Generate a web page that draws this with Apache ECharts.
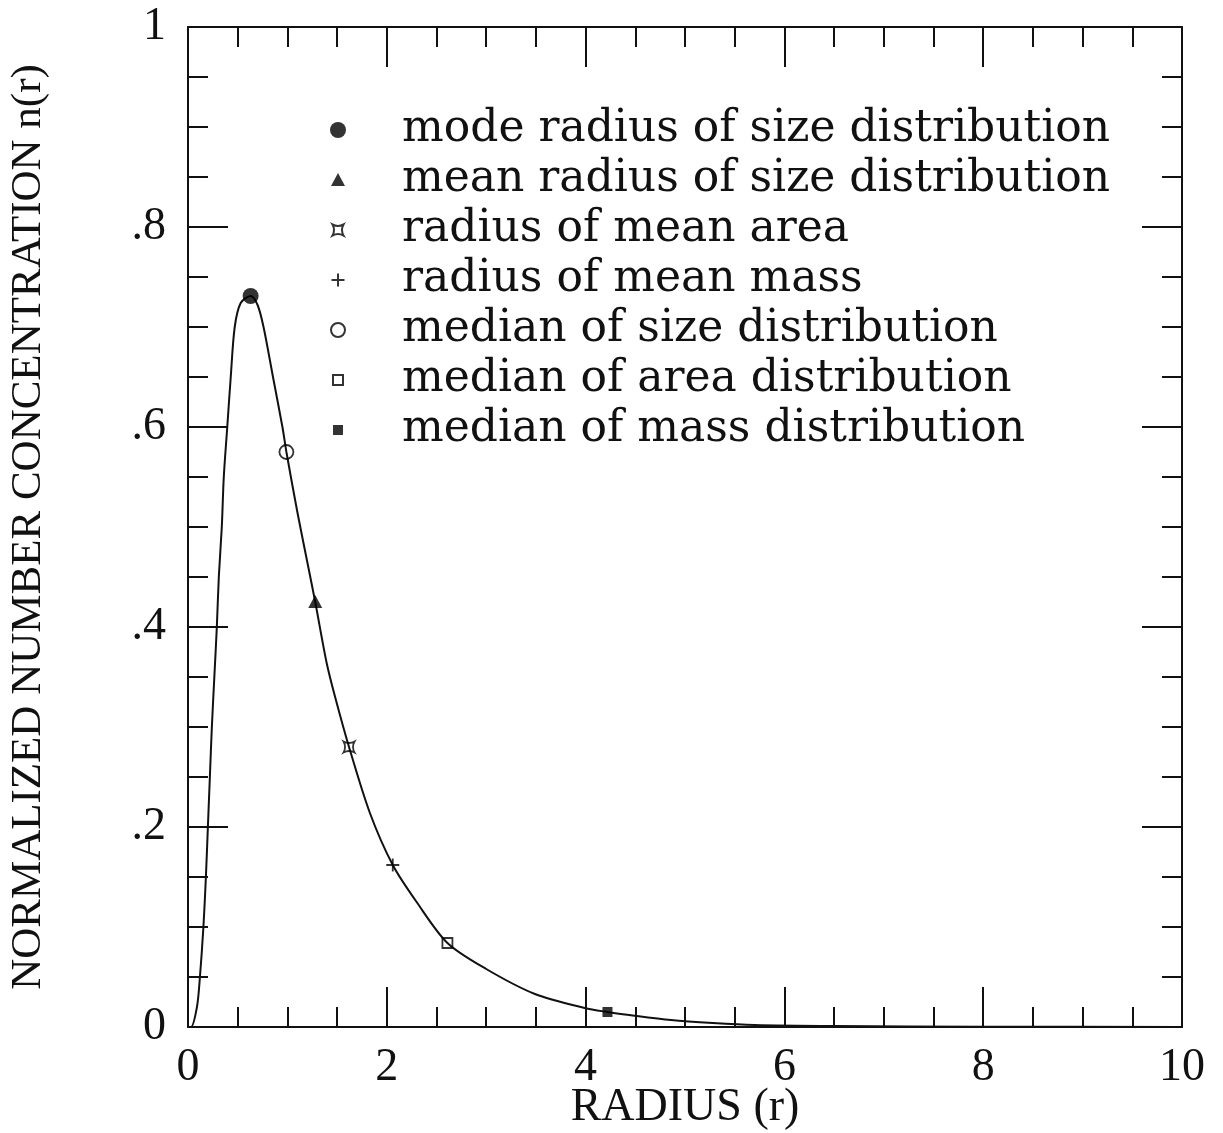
<!DOCTYPE html>
<html>
<head>
<meta charset="utf-8">
<script src="https://cdn.jsdelivr.net/npm/echarts@6/dist/echarts.min.js"></script>
<style>
  html, body { margin: 0; padding: 0; background: #fff; }
  #chart { width: 1223px; height: 1133px; }
</style>
</head>
<body>
<div id="chart"></div>
<script>
// size distribution curve
const curveR = [0, 0.03, 0.09, 0.12, 0.155, 0.18, 0.20, 0.22, 0.24, 0.265, 0.29, 0.31, 0.34, 0.36, 0.395, 0.43, 0.47, 0.53, 0.63, 0.70, 0.76, 0.855, 0.95, 0.99, 1.10, 1.20, 1.28, 1.395, 1.48, 1.62, 1.83, 2.06, 2.30, 2.61, 3.0, 3.49, 3.99, 4.22, 4.44, 4.86, 5.28, 5.7, 6.5, 8.0, 10.0];
const curveN = [0, 0, 0.02, 0.05, 0.10, 0.15, 0.20, 0.25, 0.30, 0.35, 0.40, 0.45, 0.50, 0.55, 0.60, 0.65, 0.70, 0.724, 0.731, 0.722, 0.70, 0.65, 0.60, 0.575, 0.515, 0.465, 0.425, 0.364, 0.33, 0.28, 0.214, 0.162, 0.125, 0.084, 0.058, 0.033, 0.019, 0.015, 0.012, 0.007, 0.004, 0.002, 0.001, 0.0003, 0.0001];

// characteristic radii marked on the curve
const markerNames = [
  'mode radius of size distribution',
  'mean radius of size distribution',
  'radius of mean area',
  'radius of mean mass',
  'median of size distribution',
  'median of area distribution',
  'median of mass distribution'
];
const markerR = [0.63, 1.28, 1.62, 2.06, 0.99, 2.61, 4.22];
const markerN = [0.731, 0.425, 0.28, 0.162, 0.575, 0.084, 0.015];

const xTicks = [0, 2, 4, 6, 8, 10];
const yTicks = [0, 0.2, 0.4, 0.6, 0.8, 1];

// symbols (20x20 box, the leading moves fix the box so sizes differ)
const box = 'path://M0 0M20 20';
const symbols = [
  box + 'M2 10A8 8 0 1 1 18 10A8 8 0 1 1 2 10Z',
  box + 'M10 3L17 16L3 16Z',
  box + 'M4.5 4.5Q10 7.5 15.5 4.5Q12.5 10 15.5 15.5Q10 12.5 4.5 15.5Q7.5 10 4.5 4.5Z',
  box + 'M10 3.5L10 16.5M3.5 10L16.5 10',
  box + 'M3 10A7 7 0 1 1 17 10A7 7 0 1 1 3 10Z',
  box + 'M5 5L15 5L15 15L5 15Z',
  box + 'M5 5L15 5L15 15L5 15Z'
];
const filled = [true, true, false, false, false, false, true];

const chart = echarts.init(document.getElementById('chart'), null, { renderer: 'canvas' });

const fontTick = "'Liberation Serif', serif";
const fontText = "'DejaVu Serif', serif";

function tickAxis(extra) {
  return Object.assign({
    type: 'value',
    axisLine: { show: true, onZero: false, lineStyle: { color: '#111', width: 2 } },
    axisTick: { show: true, inside: true, length: 40, lineStyle: { color: '#111', width: 2 } },
    minorTick: { show: true, splitNumber: 4, length: 20, lineStyle: { color: '#111', width: 2 } },
    splitLine: { show: false },
    minorSplitLine: { show: false }
  }, extra);
}

const markerSeries = markerNames.map((name, i) => ({
  name: name,
  type: 'scatter',
  symbol: symbols[i],
  symbolSize: 20,
  symbolKeepAspect: true,
  z: 5,
  itemStyle: {
    color: filled[i] ? '#000' : 'rgba(0,0,0,0)',
    borderColor: '#000',
    borderWidth: filled[i] ? 0 : 1.8
  },
  data: [[markerR[i], markerN[i]]]
}));

const option = {
  animation: false,
  backgroundColor: '#fff',
  grid: { left: 188, right: 41, top: 27, bottom: 106, containLabel: false, outerBoundsMode: 'none' },
  legend: {
    orient: 'vertical',
    left: 327,
    top: 108,
    padding: 0,
    itemWidth: 118,
    itemHeight: 20,
    itemGap: 6,
    data: markerNames,
    textStyle: { fontFamily: fontText, fontSize: 44, lineHeight: 44, color: '#111' }
  },
  xAxis: [
    tickAxis({
      min: 0, max: 10, interval: 2, position: 'bottom',
      name: 'RADIUS (r)', nameLocation: 'middle', nameGap: 58, nameMoveOverlap: false,
      nameTextStyle: { fontFamily: fontTick, fontSize: 46, color: '#111' },
      axisLabel: { margin: 18, fontFamily: fontTick, fontSize: 46, color: '#111',
        formatter: v => xTicks.includes(v) ? String(v) : '' }
    }),
    tickAxis({ min: 0, max: 10, interval: 2, position: 'top', axisLabel: { show: false } })
  ],
  yAxis: [
    tickAxis({
      min: 0, max: 1, interval: 0.2, position: 'left',
      name: 'NORMALIZED NUMBER CONCENTRATION n(r)', nameLocation: 'middle', nameGap: 138, nameMoveOverlap: false,
      nameTextStyle: { fontFamily: fontTick, fontSize: 43, color: '#111' },
      axisLabel: { margin: 22, fontFamily: fontTick, fontSize: 46, color: '#111',
        formatter: v => {
          const t = Number(v.toFixed(1));
          if (!yTicks.includes(t)) return '';
          if (t === 0 || t === 1) return String(t);
          return String(t).replace(/^0/, '');
        } }
    }),
    tickAxis({ min: 0, max: 1, interval: 0.2, position: 'right', axisLabel: { show: false } })
  ],
  series: [
    {
      name: 'n(r)',
      type: 'line',
      data: curveR.map((r, i) => [r, curveN[i]]),
      showSymbol: false,
      smooth: 0.3,
      lineStyle: { color: '#111', width: 2 },
      z: 3
    }
  ].concat(markerSeries)
};

chart.setOption(option);
</script>
</body>
</html>
